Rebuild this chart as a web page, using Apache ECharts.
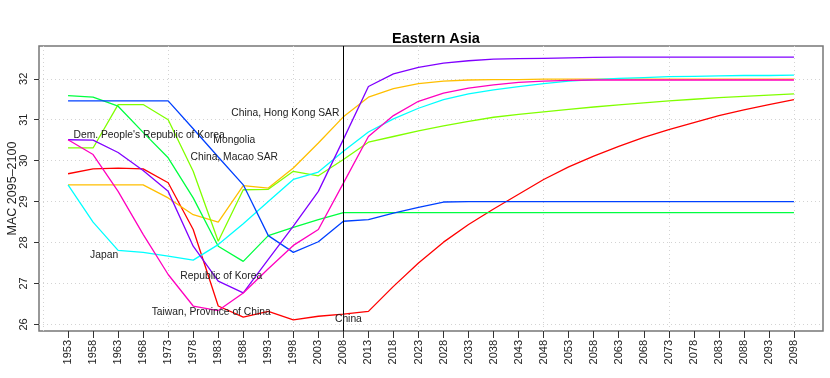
<!DOCTYPE html>
<html>
<head>
<meta charset="utf-8">
<script src="https://cdn.jsdelivr.net/npm/echarts@6/dist/echarts.min.js"></script>
<style>
  html, body { margin: 0; padding: 0; background: #fff; }
  #container { width: 830px; height: 378px; }
</style>
</head>
<body>
<div id="container"></div>
<script>
// x positions (years) and tick values
const years = [1953, 1958, 1963, 1968, 1973, 1978, 1983, 1988, 1993, 1998,
  2003, 2008, 2013, 2018, 2023, 2028, 2033, 2038, 2043, 2048,
  2053, 2058, 2063, 2068, 2073, 2078, 2083, 2088, 2093, 2098]
const yTicks = [26, 27, 28, 29, 30, 31, 32]
const gridYears = [1948, 1973, 1998, 2023, 2048, 2073, 2098]

const countries = ['China', 'China, Hong Kong SAR', 'China, Macao SAR',
  "Dem. People's Republic of Korea", 'Japan', 'Mongolia',
  'Republic of Korea', 'Taiwan, Province of China']

const china = [29.68, 29.80, 29.82, 29.80, 29.46, 28.32, 26.45, 26.18, 26.32, 26.11,
  26.20, 26.25, 26.32, 26.93, 27.50, 28.01, 28.44, 28.82, 29.18, 29.54,
  29.85, 30.11, 30.35, 30.57, 30.76, 30.93, 31.10, 31.24, 31.37, 31.49]
const hongKong = [29.41, 29.41, 29.41, 29.41, 29.09, 28.68, 28.50, 29.39, 29.33, 29.82,
  30.43, 31.07, 31.55, 31.76, 31.88, 31.94, 31.97, 31.98, 31.98, 31.99,
  31.99, 31.99, 31.99, 31.99, 31.99, 31.99, 31.99, 31.99, 31.99, 31.99]
const macao = [30.31, 30.31, 31.37, 31.37, 31.00, 29.74, 28.03, 29.29, 29.30, 29.74,
  29.63, 30.03, 30.45, 30.59, 30.73, 30.85, 30.96, 31.06, 31.13, 31.19,
  31.25, 31.31, 31.36, 31.41, 31.46, 31.50, 31.54, 31.57, 31.60, 31.63]
const dprk = [31.59, 31.55, 31.33, 30.69, 30.07, 29.09, 27.91, 27.54, 28.17, 28.37,
  28.56, 28.73, 28.73, 28.73, 28.73, 28.73, 28.73, 28.73, 28.73, 28.73,
  28.73, 28.73, 28.73, 28.73, 28.73, 28.73, 28.73, 28.73, 28.73, 28.73]
const japan = [29.41, 28.50, 27.81, 27.76, 27.67, 27.57, 27.95, 28.46, 29.00, 29.54,
  29.72, 30.23, 30.70, 31.02, 31.28, 31.49, 31.63, 31.73, 31.81, 31.88,
  31.94, 31.98, 32.01, 32.03, 32.05, 32.06, 32.07, 32.08, 32.08, 32.09]
const mongolia = [31.46, 31.46, 31.46, 31.46, 31.46, 30.78, 30.09, 29.41, 28.17, 27.76,
  28.02, 28.52, 28.56, 28.72, 28.86, 28.99, 29.00, 29.00, 29.00, 29.00,
  29.00, 29.00, 29.00, 29.00, 29.00, 29.00, 29.00, 29.00, 29.00, 29.00]
const korea = [30.51, 30.50, 30.20, 29.76, 29.25, 27.91, 27.06, 26.77, 27.59, 28.40,
  29.25, 30.52, 31.81, 32.12, 32.28, 32.38, 32.44, 32.48, 32.49, 32.50,
  32.51, 32.52, 32.53, 32.53, 32.53, 32.53, 32.53, 32.53, 32.53, 32.53]
const taiwan = [30.51, 30.15, 29.25, 28.20, 27.22, 26.45, 26.34, 26.77, 27.36, 27.93,
  28.32, 29.45, 30.59, 31.10, 31.45, 31.65, 31.77, 31.85, 31.91, 31.94,
  31.96, 31.97, 31.97, 31.97, 31.97, 31.97, 31.97, 31.97, 31.97, 31.97]

// where each country's name is written (data units)
const labelYears = [2009, 1996.4, 1986.2, 1969.2, 1960.2, 1986.2, 1983.6, 1981.6]
const labelValues = [26.12, 31.15, 30.09, 30.62, 27.68, 30.49, 27.18, 26.30]

const markYear = 2008

const colors = ['#FF0000', '#FFBF00', '#80FF00', '#00FF40',
  '#00FFFF', '#0040FF', '#8000FF', '#FF00BF']
const font = '"Liberation Sans", Arial, sans-serif'

const allValues = [china, hongKong, macao, dprk, japan, mongolia, korea, taiwan]

const chartDom = document.getElementById('container')
const myChart = echarts.init(chartDom, null, { renderer: 'canvas' })

const series = countries.map(function(name, i) {
  return {
    name: name,
    type: 'line',
    data: years.map(function(y, k) { return [y, allValues[i][k]] }),
    showSymbol: false,
    symbol: 'none',
    lineStyle: { color: colors[i], width: 1.3 },
    itemStyle: { color: colors[i] },
    silent: true,
    markPoint: {
      silent: true,
      symbol: 'circle',
      symbolSize: 1,
      itemStyle: { color: 'rgba(0,0,0,0)' },
      label: {
        show: true,
        position: 'inside',
        formatter: name,
        color: '#222',
        fontSize: 10.3,
        fontFamily: font
      },
      data: [{ coord: [labelYears[i], labelValues[i]] }]
    }
  }
})

// dotted vertical grid, kept under the lines
series[0].markLine = {
  silent: true,
  z: 1,
  symbol: ['none', 'none'],
  label: { show: false },
  lineStyle: { color: '#d3d3d3', type: [1, 3], width: 1 },
  data: gridYears.map(function(y) { return { xAxis: y } })
}

// vertical reference line
series[series.length - 1].markLine = {
  silent: true,
  symbol: ['none', 'none'],
  label: { show: false },
  lineStyle: { color: '#000', type: 'solid', width: 1 },
  data: [{ xAxis: markYear }]
}

const option = {
  animation: false,
  backgroundColor: '#fff',
  title: {
    text: 'Eastern Asia',
    left: 431,
    top: 26,
    textAlign: 'center',
    textStyle: { fontSize: 14.5, fontWeight: 'bold', color: '#000', fontFamily: font }
  },
  grid: {
    left: 39,
    right: 7,
    top: 46,
    bottom: 47,
    outerBoundsMode: 'none',
    containLabel: false,
    show: true,
    borderColor: '#777',
    borderWidth: 1.5
  },
  xAxis: {
    type: 'value',
    min: 1947.2,
    max: 2103.8,
    axisLine: { show: false },
    axisTick: { show: true, customValues: years, length: 7, lineStyle: { color: '#333' } },
    axisLabel: {
      customValues: years,
      rotate: 90,
      fontSize: 11,
      margin: 9,
      color: '#222',
      fontFamily: font,
      formatter: function(v) { return String(v) }
    },
    splitLine: { show: false }
  },
  yAxis: {
    type: 'value',
    min: 25.84,
    max: 32.8,
    name: 'MAC 2095–2100',
    nameLocation: 'middle',
    nameGap: 20,
    nameMoveOverlap: false,
    nameTextStyle: { fontSize: 12.5, color: '#222', fontFamily: font },
    axisLine: { show: false },
    axisTick: { show: true, customValues: yTicks, length: 5, lineStyle: { color: '#333' } },
    axisLabel: { customValues: yTicks, rotate: 90, fontSize: 11, margin: 10, color: '#222', fontFamily: font },
    splitLine: { show: true, lineStyle: { type: [1, 3], color: '#d3d3d3', width: 1 } }
  },
  series: series
}

option && myChart.setOption(option)
</script>
</body>
</html>
